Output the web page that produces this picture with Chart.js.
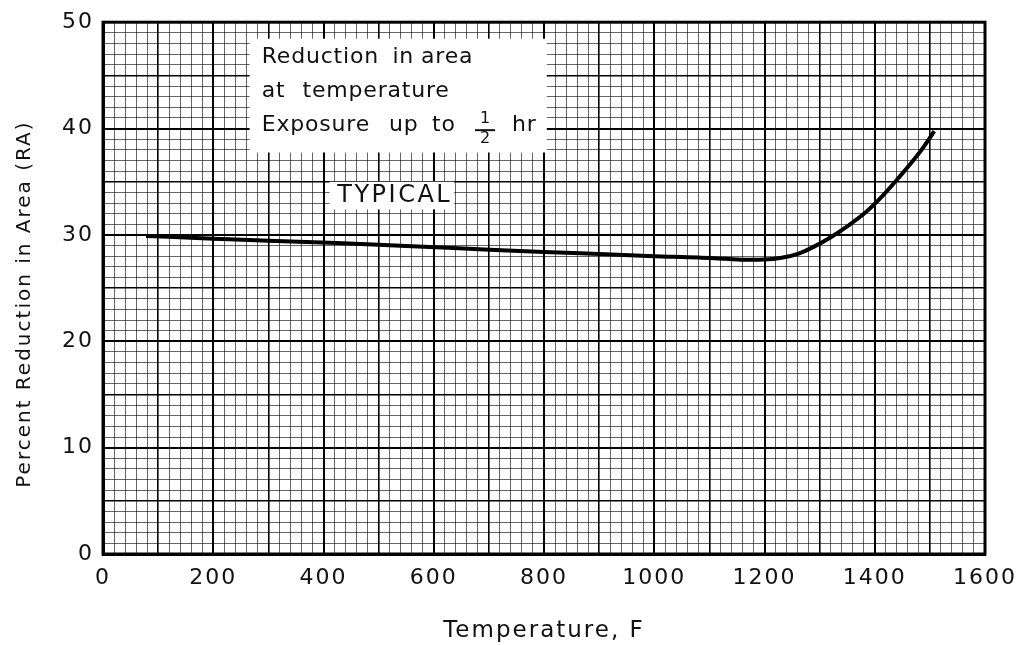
<!DOCTYPE html>
<html>
<head>
<meta charset="utf-8">
<script src="https://cdn.jsdelivr.net/npm/chart.js@4.4.1/dist/chart.umd.min.js"></script>
<style>
  html, body { margin: 0; padding: 0; background: #fff; }
  #wrap { width: 1024px; height: 645px; position: relative; }
</style>
</head>
<body>
<div id="wrap"><canvas id="c" width="1024" height="645"></canvas></div>
<script>
// ---- data ----
const temperatureF = [78, 200, 300, 424, 550, 682, 800, 900, 1000, 1080, 1130, 1171, 1200, 1231, 1262, 1290, 1321, 1350, 1383, 1412, 1443, 1473, 1491, 1508];
const reductionPct = [29.9, 29.65, 29.45, 29.25, 28.95, 28.66, 28.4, 28.2, 28.0, 27.88, 27.75, 27.66, 27.68, 27.85, 28.25, 28.9, 29.8, 30.8, 32.1, 33.55, 35.35, 37.2, 38.45, 39.75];
const xTickLabels = [0, 200, 400, 600, 800, 1000, 1200, 1400, 1600];
const yTickLabels = [0, 10, 20, 30, 40, 50];
const xTitle = 'Temperature, F';
const yTitle = 'Percent Reduction in Area (RA)';
const noteLine1 = ['Reduction', 'in', 'area'];
const noteLine2 = ['at', 'temperature'];
const noteLine3 = ['Exposure', 'up', 'to'];
const noteFraction = ['1', '2'];
const noteUnit = 'hr';
const typicalLabel = 'TYPICAL';

const FONT = '"DejaVu Sans", "Liberation Sans", sans-serif';

const points = temperatureF.map((t, i) => ({ x: t, y: reductionPct[i] }));

const notesPlugin = {
  id: 'notes',
  beforeDraw(chart) {
    // wide lettering like the original drafting font
    chart.ctx.letterSpacing = '2px';
  },
  beforeDatasetsDraw(chart) {
    const ctx = chart.ctx;
    const xs = chart.scales.x, ys = chart.scales.y;
    const X = v => xs.getPixelForValue(v), Y = v => ys.getPixelForValue(v);
    ctx.save();
    // white note boxes
    ctx.fillStyle = '#fff';
    ctx.fillRect(X(266), Y(48.45), X(805) - X(266), Y(37.75) - Y(48.45));
    ctx.fillRect(X(411), Y(35.0), X(637) - X(411), Y(32.4) - Y(35.0));
    ctx.fillStyle = '#111';
    ctx.font = '22px ' + FONT;
    ctx.letterSpacing = '0.8px';
    ctx.textAlign = 'left';
    ctx.textBaseline = 'middle';
    const row = (words, xs_, yv) => words.forEach((w, i) => ctx.fillText(w, X(xs_[i]), Y(yv)));
    row(noteLine1, [288, 525, 577], 46.7);
    row(noteLine2, [288, 362], 43.5);
    row(noteLine3, [288, 519, 597], 40.35);
    // fraction 1/2
    const fx = X(693);
    ctx.font = '16px ' + FONT;
    ctx.letterSpacing = '0px';
    ctx.textAlign = 'center';
    ctx.fillText(noteFraction[0], fx, Y(40.95));
    ctx.fillText(noteFraction[1], fx, Y(39.0));
    ctx.fillRect(fx - 10, Y(39.85) - 1, 20, 2);
    ctx.font = '22px ' + FONT;
    ctx.letterSpacing = '0.8px';
    ctx.textAlign = 'left';
    ctx.fillText(noteUnit, X(742), Y(40.35));
    // TYPICAL
    ctx.font = '24px ' + FONT;
    ctx.letterSpacing = '2.5px';
    ctx.fillText(typicalLabel, X(425), Y(33.65));
    ctx.restore();
  },
  afterDatasetsDraw(chart) {
    const { ctx, chartArea: a } = chart;
    ctx.save();
    ctx.strokeStyle = '#000';
    ctx.lineWidth = 3;
    ctx.strokeRect(a.left, a.top, a.right - a.left, a.bottom - a.top);
    ctx.restore();
  },
  afterDraw(chart) {
    const { ctx, chartArea: a } = chart;
    ctx.save();
    ctx.translate(a.left - 78, (a.top + a.bottom) / 2 + 16);
    ctx.rotate(-Math.PI / 2);
    ctx.font = '20px ' + FONT;
    ctx.letterSpacing = '2px';
    ctx.fillStyle = '#111';
    ctx.textAlign = 'center';
    ctx.textBaseline = 'middle';
    ctx.fillText(yTitle, 0, 0);
    ctx.restore();
  }
};

new Chart(document.getElementById('c'), {
  type: 'line',
  data: {
    datasets: [{
      data: points,
      borderColor: '#000',
      borderWidth: 4,
      pointRadius: 0,
      fill: false,
      cubicInterpolationMode: 'monotone'
    }]
  },
  options: {
    responsive: false,
    animation: false,
    layout: { padding: { top: 19, right: 37, left: 0, bottom: 0 } },
    plugins: { legend: { display: false }, tooltip: { enabled: false } },
    scales: {
      x: {
        type: 'linear', min: 0, max: 1600,
        afterFit(s) { s.height = 91; },
        afterBuildTicks(s) {
          const t = [];
          for (let v = 0; v <= 1600; v += 20) t.push({ value: v });
          s.ticks = t;
        },
        ticks: {
          autoSkip: false, maxRotation: 0, padding: 11,
          color: '#111',
          font: { family: FONT, size: 22 },
          callback: v => xTickLabels.includes(v) ? String(v) : ''
        },
        grid: {
          drawTicks: false,
          color: c => (c.tick.value % 100 === 0) ? '#000' : 'rgba(0,0,0,0.6)',
          lineWidth: c => (c.tick.value % 200 === 0) ? 2 : (c.tick.value % 100 === 0 ? 1.6 : 1)
        },
        border: { color: '#000', width: 3 },
        title: { display: true, text: xTitle, color: '#111', font: { family: FONT, size: 23 }, padding: { top: 14, bottom: 0 } }
      },
      y: {
        type: 'linear', min: 0, max: 50,
        afterFit(s) { s.width = 103; },
        afterBuildTicks(s) {
          const t = [];
          for (let v = 0; v <= 50; v += 1) t.push({ value: v });
          s.ticks = t;
        },
        ticks: {
          autoSkip: false, padding: 9,
          color: '#111',
          font: { family: FONT, size: 22 },
          callback: v => yTickLabels.includes(v) ? String(v) : ''
        },
        grid: {
          drawTicks: false,
          color: c => (c.tick.value % 5 === 0) ? '#000' : 'rgba(0,0,0,0.6)',
          lineWidth: c => (c.tick.value % 10 === 0) ? 2 : (c.tick.value % 5 === 0 ? 1.6 : 1)
        },
        border: { color: '#000', width: 3 },
        title: { display: false }
      }
    }
  },
  plugins: [notesPlugin]
});
</script>
</body>
</html>
